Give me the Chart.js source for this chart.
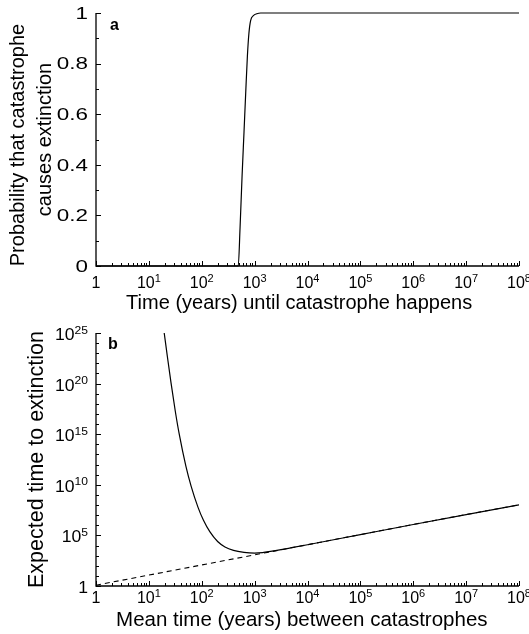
<!DOCTYPE html>
<html><head><meta charset="utf-8">
<script src="https://cdn.jsdelivr.net/npm/chart.js@4.4.0/dist/chart.umd.min.js"></script>
<style>
html,body{margin:0;padding:0;background:#fff;}
#wrap{position:relative;width:529px;height:634px;overflow:hidden;}
canvas{position:absolute;left:0;}
</style></head><body>
<div id="wrap"><canvas id="c1"></canvas><canvas id="c2"></canvas></div>
<script>
// ---------------- data ----------------
const xMajorTicks = [1, 1e1, 1e2, 1e3, 1e4, 1e5, 1e6, 1e7, 1e8];
const xTickLabels = ['1', '10^1', '10^2', '10^3', '10^4', '10^5', '10^6', '10^7', '10^8'];
const minorMultipliers = [2, 3, 4, 5, 6, 7, 8, 9];

const probTicks = [0, 0.2, 0.4, 0.6, 0.8, 1];
const probTickLabels = ['0', '0.2', '0.4', '0.6', '0.8', '1'];
const probMinorTicks = [0.1, 0.3, 0.5, 0.7, 0.9];

const expTicks = [1, 1e5, 1e10, 1e15, 1e20, 1e25];
const expTickLabels = ['1', '10^5', '10^10', '10^15', '10^20', '10^25'];
const expMinorTicks = [1e1,1e2,1e3,1e4,1e6,1e7,1e8,1e9,1e11,1e12,1e13,1e14,1e16,1e17,1e18,1e19,1e21,1e22,1e23,1e24];

// panel a
const catTime = [1, 10, 100, 300, 490, 530, 580, 630, 680, 730, 780, 840, 950, 1100, 1300, 1e4, 1e6, 1e8];
const extinctionProb = [0, 0, 0, 0, 0, 0.15, 0.36, 0.53, 0.69, 0.83, 0.92, 0.97, 0.99, 0.997, 1, 1, 1, 1];

// panel b
const meanTime = [19.5, 22.4, 26.2, 31.6, 37.6, 50.1, 63.1, 85.1, 107.2, 143, 199.5, 275, 398, 631, 1000, 1413, 1995, 3162, 5012, 1e4, 1e5, 1e6, 1e7, 1e8];
const expectedTime = [1e25, 4.5e22, 1.26e20, 1.86e17, 9.5e14, 7.1e11, 7.1e9, 5.9e7, 3.3e6, 2.2e5, 2.5e4, 7.2e3, 3.3e3, 2.1e3, 1.8e3, 2.0e3, 2.6e3, 3.9e3, 6.1e3, 1.2e4, 1.2e5, 1.2e6, 1.15e7, 1.05e8];
const approxTime = [1, 10, 100, 1e3, 1e4, 1e5, 1e6, 1e7, 1e8];
const approxExpected = [1.2, 12, 120, 1.2e3, 1.2e4, 1.2e5, 1.2e6, 1.15e7, 1.05e8];

// ---------------- style ----------------
const FONT = "'Liberation Sans', Arial, Helvetica, sans-serif";
const TICK_PX = 16, SUP_PX = 11, SUP_RAISE = 6.5;

const xMinorTicks = [];
xMajorTicks.slice(0, -1).forEach(d => minorMultipliers.forEach(m => xMinorTicks.push(d * m)));

function drawLabel(ctx, text, x, y, align, sx) {
  sx = sx || 1;
  const parts = text.split('^');
  const base = parts[0], sup = parts[1];
  ctx.font = TICK_PX + 'px ' + FONT;
  const wb = ctx.measureText(base).width * sx;
  let ws = 0;
  if (sup) { ctx.font = SUP_PX + 'px ' + FONT; ws = ctx.measureText(sup).width * sx; }
  const total = wb + ws;
  const x0 = align === 'center' ? x - total / 2 : (align === 'right' ? x - total : x);
  ctx.save();
  ctx.translate(x0, y);
  ctx.scale(sx, 1);
  ctx.textAlign = 'left'; ctx.textBaseline = 'alphabetic';
  ctx.font = TICK_PX + 'px ' + FONT;
  ctx.fillText(base, 0, 0);
  if (sup) { ctx.font = SUP_PX + 'px ' + FONT; ctx.fillText(sup, wb / sx, -SUP_RAISE); }
  ctx.restore();
}

const decorPlugin = {
  id: 'decor',
  afterDatasetsDraw(chart, args, o) {
    const ctx = chart.ctx;
    const {left, right, top, bottom} = chart.chartArea;
    const xs = chart.scales.x, ys = chart.scales.y;
    ctx.save();
    ctx.strokeStyle = '#000';
    ctx.lineWidth = 1.3;
    ctx.beginPath();
    ctx.moveTo(left, top); ctx.lineTo(left, bottom); ctx.lineTo(right, bottom);
    ctx.stroke();
    ctx.lineWidth = 1;
    ctx.beginPath();
    o.xMajor.forEach(v => { const p = Math.round(xs.getPixelForValue(v)) + 0.5; ctx.moveTo(p, bottom); ctx.lineTo(p, bottom - 5); });
    o.xMinor.forEach(v => { const p = Math.round(xs.getPixelForValue(v)) + 0.5; ctx.moveTo(p, bottom); ctx.lineTo(p, bottom - 3); });
    o.yMajor.forEach(v => { const p = Math.round(ys.getPixelForValue(v)) + 0.5; ctx.moveTo(left, p); ctx.lineTo(left + 5, p); });
    o.yMinor.forEach(v => { const p = Math.round(ys.getPixelForValue(v)) + 0.5; ctx.moveTo(left, p); ctx.lineTo(left + 3, p); });
    ctx.stroke();
    ctx.fillStyle = '#000';
    o.xMajor.forEach((v, i) => drawLabel(ctx, o.xLabels[i], xs.getPixelForValue(v), bottom + o.xLabelDy, 'center', 1));
    o.yMajor.forEach((v, i) => drawLabel(ctx, o.yLabels[i], left - 8, ys.getPixelForValue(v) + o.yLabelDy, 'right', o.yLabelSX));
    ctx.font = 'bold ' + o.letterPx + 'px ' + FONT;
    ctx.textAlign = 'left'; ctx.textBaseline = 'alphabetic';
    ctx.fillText(o.letter, left + o.letterDx, top + o.letterDy);
    ctx.restore();
  }
};

function setup(id, topPx, h) {
  const c = document.getElementById(id);
  c.width = 529; c.height = h;
  c.style.width = '529px'; c.style.height = h + 'px'; c.style.top = topPx + 'px';
  return c;
}

// ---------------- panel a ----------------
const H1 = 320;
new Chart(setup('c1', 0, H1), {
  type: 'line',
  data: {
    datasets: [{
      data: catTime.map((t, i) => ({x: t, y: extinctionProb[i]})),
      borderColor: '#000', borderWidth: 1.2, pointRadius: 0, fill: false,
      cubicInterpolationMode: 'monotone', clip: 4
    }]
  },
  options: {
    responsive: false, animation: false, devicePixelRatio: 1,
    layout: {padding: {left: 0, top: 13, right: 10, bottom: 0}},
    plugins: {
      legend: {display: false}, tooltip: {enabled: false},
      decor: {xMajor: xMajorTicks, xMinor: xMinorTicks, xLabels: xTickLabels, xLabelDy: 22,
              yMajor: probTicks, yMinor: probMinorTicks, yLabels: probTickLabels, yLabelDy: 5.8, yLabelSX: 1.4,
              letter: 'a', letterPx: 16, letterDx: 14, letterDy: 17}
    },
    scales: {
      x: {
        type: 'logarithmic', min: 1, max: 1e8, position: 'bottom',
        grid: {display: false}, border: {display: false}, ticks: {display: false},
        afterFit: s => { s.height = H1 - 266; },
        title: {display: true, text: 'Time (years) until catastrophe happens   ', color: '#000',
                font: {family: FONT, size: 20, lineHeight: 1.2}, padding: {top: 0, bottom: 4.7}}
      },
      y: {
        type: 'linear', min: 0, max: 1, position: 'left',
        grid: {display: false}, border: {display: false}, ticks: {display: false},
        afterFit: s => { s.width = 96; },
        title: {display: true, text: ['Probability that catastrophe  ', 'causes extinction'], color: '#000',
                font: {family: FONT, size: 20, lineHeight: 1.35}, padding: {top: 4.8, bottom: 0}}
      }
    }
  },
  plugins: [decorPlugin]
});

// ---------------- panel b ----------------
const TOP2 = 310, H2 = 324;
new Chart(setup('c2', TOP2, H2), {
  type: 'line',
  data: {
    datasets: [{
      data: meanTime.map((t, i) => ({x: t, y: expectedTime[i]})),
      borderColor: '#000', borderWidth: 1.2, pointRadius: 0, fill: false,
      cubicInterpolationMode: 'monotone', clip: 4
    }, {
      data: approxTime.map((t, i) => ({x: t, y: approxExpected[i]})),
      borderColor: '#000', borderWidth: 1.1, pointRadius: 0, fill: false,
      borderDash: [5, 4], tension: 0, clip: 4
    }]
  },
  options: {
    responsive: false, animation: false, devicePixelRatio: 1,
    layout: {padding: {left: 0, top: 333 - TOP2, right: 10, bottom: 0}},
    plugins: {
      legend: {display: false}, tooltip: {enabled: false},
      decor: {xMajor: xMajorTicks, xMinor: xMinorTicks, xLabels: xTickLabels, xLabelDy: 17,
              yMajor: expTicks, yMinor: expMinorTicks, yLabels: expTickLabels, yLabelDy: 7, yLabelSX: 1.1,
              letter: 'b', letterPx: 16, letterDx: 12, letterDy: 16}
    },
    scales: {
      x: {
        type: 'logarithmic', min: 1, max: 1e8, position: 'bottom',
        grid: {display: false}, border: {display: false}, ticks: {display: false},
        afterFit: s => { s.height = H2 - (586 - TOP2); },
        title: {display: true, text: 'Mean time (years) between catastrophes  ', color: '#000',
                font: {family: FONT, size: 20.5, lineHeight: 1.2}, padding: {top: 0, bottom: 1.5}}
      },
      y: {
        type: 'logarithmic', min: 1, max: 1e25, position: 'left',
        grid: {display: false}, border: {display: false}, ticks: {display: false},
        afterFit: s => { s.width = 96; },
        title: {display: true, text: 'Expected time to extinction', color: '#000',
                font: {family: FONT, size: 21.5, lineHeight: 1.2}, padding: {top: 24.5, bottom: 0}}
      }
    }
  },
  plugins: [decorPlugin]
});
</script>
</body></html>
